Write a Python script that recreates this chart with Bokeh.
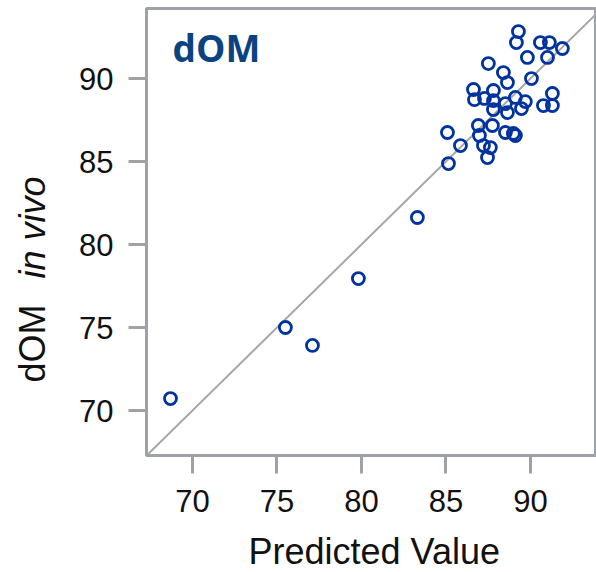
from bokeh.plotting import figure
from bokeh.models import Range1d, Label
from bokeh.layouts import row, column
from bokeh.core.properties import value
from bokeh.embed import file_html
from bokeh.resources import INLINE
import math

# Predicted value (x) and observed dOM in vivo (y)
predicted = [68.70, 75.50, 77.10, 79.82, 83.31,
             89.29, 89.17, 90.59, 91.12, 91.89, 89.82, 91.01, 87.51, 88.40, 90.06,
             88.64, 86.63, 87.81, 91.30, 89.11, 89.70, 86.69, 87.28, 87.81, 88.52,
             90.77, 91.30, 89.47, 87.81, 88.64, 86.92, 87.75, 88.52, 89.11, 85.09,
             86.98, 85.86, 87.22, 87.63, 87.46, 85.15, 88.99]
observed = [70.72, 75.00, 73.92, 77.95, 81.63,
            92.83, 92.17, 92.17, 92.17, 91.81, 91.27, 91.27, 90.90, 90.36, 90.00,
            89.76, 89.34, 89.28, 89.10, 88.86, 88.61, 88.73, 88.80, 88.67, 88.49,
            88.37, 88.37, 88.19, 88.13, 87.95, 87.17, 87.17, 86.75, 86.57, 86.75,
            86.57, 85.96, 85.96, 85.84, 85.24, 84.88, 86.69]
ticks = [70, 75, 80, 85, 90]
identity = [60, 100]
x_title = "Predicted Value"
y_title_plain = "dOM"
y_title_italic = "in vivo"
panel_title = "dOM"

x0, x1 = 67.28, 93.91
y0, y1 = 67.29, 94.22
TOTAL_H = 572
LEFT_W = 60
MAIN_W = 536
MAIN_H = 527
TEXT = "#111111"
gray = "#9ea1a5"


def blank(w, h, xr, yr):
    f = figure(width=w, height=h, x_range=Range1d(0, xr), y_range=Range1d(0, yr),
               min_border_left=0, min_border_right=0, min_border_top=0, min_border_bottom=0,
               x_axis_location=None, y_axis_location=None,
               output_backend="svg", toolbar_location=None)
    f.xgrid.visible = False
    f.ygrid.visible = False
    f.outline_line_color = None
    f.background_fill_color = "white"
    f.border_fill_color = "white"
    return f


# left strip with the y title (normal + italic parts)
left = blank(LEFT_W, TOTAL_H, LEFT_W, TOTAL_H)
left.text(x=[32], y=[190], text=[y_title_plain], angle=math.pi / 2,
          text_font=value("Liberation Sans"), text_font_size="36px", text_color=TEXT,
          text_baseline="alphabetic", text_align="left")
left.text(x=[32], y=[294], text=[y_title_italic], angle=math.pi / 2,
          text_font=value("Liberation Sans"), text_font_size="36px", text_color=TEXT,
          text_font_style="italic", text_baseline="alphabetic", text_align="left")

# main scatter
p = figure(width=MAIN_W, height=MAIN_H, min_border_left=86, min_border_right=0,
           min_border_top=8, min_border_bottom=MAIN_H - 8 - 447,
           x_range=Range1d(x0, x1), y_range=Range1d(y0, y1),
           output_backend="svg", toolbar_location=None)
p.xgrid.visible = False
p.ygrid.visible = False
p.background_fill_color = "white"
p.border_fill_color = "white"
p.outline_line_color = gray
p.outline_line_width = 3

p.line(identity, identity, line_color="#a6a6a6", line_width=2)
p.scatter(predicted, observed, marker="circle", size=12, fill_color=None,
          line_color="#0033a0", line_width=2.8)

for ax in (p.xaxis[0], p.yaxis[0]):
    ax.ticker = ticks
    ax.axis_line_color = gray
    ax.axis_line_width = 3
    ax.major_tick_line_color = gray
    ax.major_tick_line_width = 3
    ax.major_tick_out = 18
    ax.major_tick_in = 0
    ax.minor_tick_line_color = None
    ax.major_label_text_font = "Liberation Sans"
    ax.major_label_text_font_size = "31px"
    ax.major_label_text_color = TEXT
p.xaxis.major_label_standoff = 16
p.yaxis.major_label_standoff = 15

p.add_layout(Label(x=68.82, y=91.87, text=panel_title,
                   text_font="Open Sans", text_font_size="37px", text_font_style="bold",
                   text_color="#0b4382", text_baseline="alphabetic", text_align="left"))

# bottom strip with the x title (its frame is aligned with the main frame, 450 px wide)
BOT_H = TOTAL_H - MAIN_H
bottom = blank(MAIN_W, BOT_H, 450, BOT_H)
bottom.text(x=[102], y=[21], text=[x_title],
            text_font=value("Liberation Sans"), text_font_size="36px", text_color=TEXT,
            text_baseline="alphabetic", text_align="left")

layout = row(left, column(p, bottom, spacing=0), spacing=0)
open("out.html", "w").write(file_html(layout, INLINE))
